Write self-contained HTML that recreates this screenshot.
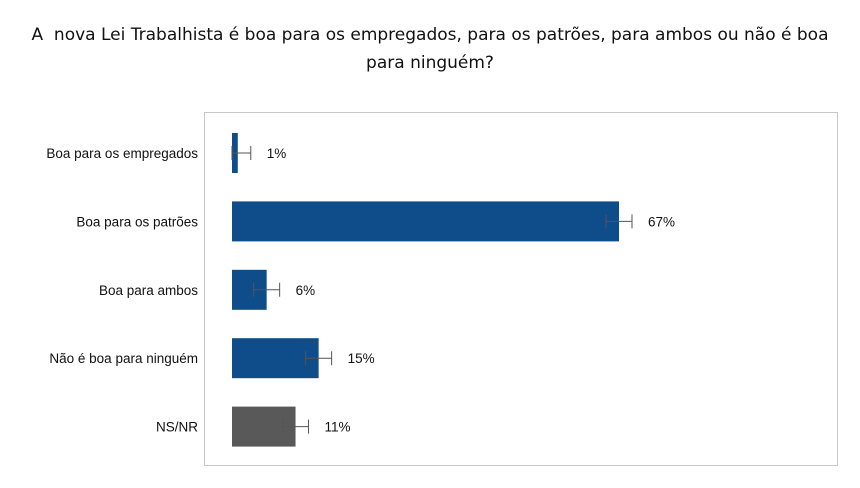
<!DOCTYPE html>
<html><head><meta charset="utf-8"><style>
body{margin:0;background:#fff;width:860px;height:488px;overflow:hidden;font-family:"Liberation Sans",sans-serif;}
#title{position:absolute;left:0;top:21px;width:860px;text-align:center;line-height:28px;color:#111;font-family:"DejaVu Sans","Liberation Sans",sans-serif;font-size:17px;}
svg{position:absolute;left:0;top:0;}
</style></head><body>
<div id="title">A&nbsp; nova Lei Trabalhista é boa para os empregados, para os patrões, para ambos ou não é boa<br>para ninguém?</div>
<svg id="chart" width="860" height="488"></svg>
<script>
const categories=["Boa para os empregados","Boa para os patrões","Boa para ambos","Não é boa para ninguém","NS/NR"];
const values=[1,67,6,15,11];
const errors=[2.25,2.25,2.25,2.25,2.25];
const colors=["#0f4c8a","#0f4c8a","#0f4c8a","#0f4c8a","#595959"];
const NS="http://www.w3.org/2000/svg";
const svg=document.getElementById('chart');
const x0=232,scale=(619-232)/67;
const xs=v=>x0+v*scale;
const ys=i=>153+i*68.4;
function mk(t,a){const e=document.createElementNS(NS,t);for(const k in a)e.setAttribute(k,a[k]);svg.appendChild(e);return e;}
const fr=mk('rect',{x:204.5,y:112.5,width:633,height:353,fill:'none',stroke:'#c8c8c8'});


categories.forEach((c,i)=>{
  const y=ys(i);
  const b=mk('rect',{x:x0,y:y-20,width:xs(values[i])-x0,height:40,fill:colors[i]});
  
  
  const lo=Math.max(x0,xs(values[i]-errors[i])),hi=xs(values[i]+errors[i]);
  const eb=mk('path',{d:`M${lo},${y}H${hi}M${lo},${y-7}V${y+7}M${hi},${y-7}V${y+7}`,stroke:'#555',fill:'none','stroke-width':1});
  
  
  const l=mk('text',{x:198,y:y+5,'text-anchor':'end','font-size':13.5,fill:'#111'});
  l.textContent=c;
  
  
  const v=mk('text',{x:hi+16,y:y+5,'font-size':13.5,fill:'#111'});
  v.textContent=values[i]+'%';
  
  
});
</script>
</body></html>
